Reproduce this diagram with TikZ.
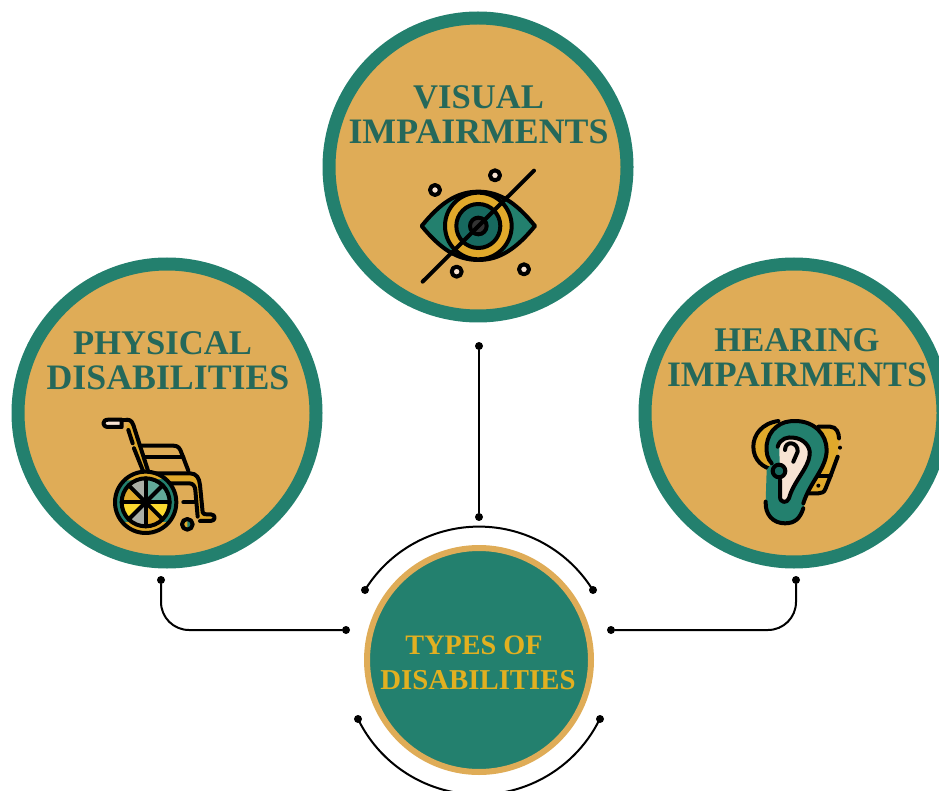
\documentclass[tikz,border=0pt]{standalone}
\usepackage{fontspec}
\setmainfont{Liberation Serif}
\definecolor{ringgreen}{HTML}{23806E}
\definecolor{darkgreen}{HTML}{17695F}
\definecolor{tan}{HTML}{DFAC57}
\definecolor{gold}{HTML}{E0A92B}
\definecolor{titlegreen}{HTML}{25685A}
\definecolor{titlegold}{HTML}{E2B020}
\definecolor{cream}{HTML}{F7E3D3}
\definecolor{spokegray}{HTML}{ABAFA6}
\definecolor{spoketeal}{HTML}{62A898}
\definecolor{spokeyellow}{HTML}{FBD92F}
\def\bigrad{149pt}
\def\midrad{112pt}
\def\upper#1{{\fontsize{34.6}{35}\selectfont #1}}
\def\hubupper#1{{\fontsize{28.2}{35}\selectfont #1}}

\begin{document}
\begin{tikzpicture}[x=1pt,y=1pt,line cap=round,line join=round]
    \tikzstyle{topic}=[circle,draw=ringgreen,line width=13pt,fill=tan,minimum size=2*\bigrad,inner sep=0pt]
    \tikzstyle{hub}=[circle,draw=tan,line width=6pt,fill=ringgreen,minimum size=2*\midrad,inner sep=0pt]
    \tikzstyle{title}=[text=titlegreen,font=\fontsize{35.8}{35}\selectfont\bfseries,align=center,inner sep=0pt]
    \tikzstyle{hubtitle}=[text=titlegold,font=\fontsize{28.8}{35}\selectfont\bfseries,align=center,inner sep=0pt]
    \tikzstyle{dot}=[circle,fill=black,minimum size=8pt,inner sep=0pt]
    \tikzstyle{wire}=[draw=black,line width=2pt]
    \tikzstyle{icon}=[draw=black,line width=4pt]
    \tikzstyle{zoomed}=[x=0.3333pt,y=-0.3333pt]
    \useasboundingbox (0,-791) rectangle (939,0);

    % Draw the circles
    \node[topic] (V) at (478,-167) {};
    \node[topic] (P) at (167,-413) {};
    \node[topic] (H) at (794,-413) {};
    \node[hub] (T) at (479,-660) {};

    % Draw the titles
    \node[title] (V-t) at (478.5,-115) {\upper{VISUAL}\\IMPAIRMENTS};
    \node[title] (P-t) at (168,-361) {\hspace*{-11pt}\upper{PHYSICAL}\\DISABILITIES};
    \node[title] (H-t) at (797,-358) {\upper{HEARING}\\IMPAIRMENTS};
    \node[hubtitle] (T-t) at (478,-663) {\hspace*{-8pt}\hubupper{TYPES OF}\\DISABILITIES};

    % Draw the dots
    \foreach \name / \x / \y in {a/479/346,b/479/517,c/161/580,d/346/630,e/796/580,f/611/630,
                                 g/365/590,h/593/590,i/358/719,j/600/719}
        \node[dot] (D-\name) at (\x,-\y) {};

    % Connect the dots
    \draw[wire] (D-a) -- (D-b);
    \draw[wire] (D-c) -- ++(0,-22) to[out=-90,in=180] ++(28,-28) -- (D-d);
    \draw[wire] (D-e) -- ++(0,-22) to[out=-90,in=0] ++(-28,-28) -- (D-f);
    \draw[wire] (D-g) arc[start angle=148.2,end angle=31.8,radius=134];
    \draw[wire] (D-i) arc[start angle=206,end angle=334,radius=134.5];

    % Draw the eye
    \begin{scope}[shift={(400,-150)},zoomed]
        \draw[icon,fill=ringgreen] (65,228) .. controls (120,160) and (170,125) .. (235,125)
            .. controls (300,125) and (350,160) .. (405,228)
            .. controls (350,295) and (300,330) .. (235,330)
            .. controls (170,330) and (120,295) .. (65,228) -- cycle;
        \draw[icon,fill=gold] (235,228) circle[radius=100];
        \draw[icon,fill=darkgreen] (235,228) circle[radius=66];
        \draw[icon,fill=black!80] (235,228) circle[radius=25];
        \draw[icon] (68,395) -- (402,62);
        \foreach \x / \y in {105/120,285/76,170/365,372/358}
            \draw[icon,fill=cream] (\x,\y) circle[radius=15];
    \end{scope}

    % Draw the wheelchair
    \begin{scope}[shift={(90,-405)},zoomed]
        \fill[gold] (108,66) -- (122,50) -- (178,205) -- (160,205) -- cycle;
        \draw[icon] (155,122) -- (250,122) .. controls (265,122) and (270,130) .. (275,145) -- (295,197);
        \draw[icon] (165,157) -- (280,157);
        \draw[icon] (110,44) .. controls (125,44) and (128,55) .. (130,60) -- (175,200);
        \draw[icon,fill=cream] (55,44) .. controls (35,44) and (35,66) .. (55,66) -- (95,66) -- (95,44) -- cycle;
        \draw[icon] (95,44) -- (110,44);
        \draw[icon] (115,75) -- (128,115);
        \draw[icon] (132,130) -- (160,200);
        \fill[gold] (190,205) -- (300,205) .. controls (320,205) and (330,220) .. (330,240) -- (338,328)
            -- (365,328) -- (365,348) -- (330,348) -- (318,245) .. controls (315,235) and (305,235) .. (295,235) -- (240,235) -- cycle;
        \draw[icon] (190,205) -- (300,205) .. controls (320,205) and (328,220) .. (330,240) -- (338,322)
            .. controls (340,328) and (345,328) .. (350,328) -- (362,328) .. controls (378,328) and (378,348) .. (362,348) -- (330,348);
        \draw[icon] (240,235) -- (298,235) .. controls (310,235) and (315,245) .. (316,255) -- (323,335);
        \draw[icon] (280,292) -- (315,292);
        % the big wheel
        \fill[ringgreen] (167,292) circle[radius=92];
        \fill[gold] (167,292) ++(40:92) arc[start angle=40,end angle=140,radius=92] -- cycle;
        \fill[gold] (167,292) ++(-135:92) arc[start angle=-135,end angle=-50,radius=92] -- cycle;
        \foreach \a / \colr in {0/spokeyellow,45/gold,90/spokegray,135/spokeyellow,
                                180/gold,225/spokegray,270/spoketeal,315/spoketeal}
            \fill[\colr] (167,292) -- ++(\a:72) arc[start angle=\a,end angle=\a+45,radius=72] -- cycle;
        \draw[icon] (167,292) circle[radius=92];
        \draw[icon] (167,292) circle[radius=72];
        \foreach \a in {0,45,...,315}
            \draw[icon] (167,292) -- ++(\a:72);
        % the small wheel
        \fill[gold] (292,358) circle[radius=16];
        \fill[ringgreen] (292,342) arc[start angle=-90,end angle=90,radius=16] -- cycle;
        \draw[icon] (292,358) circle[radius=16];
    \end{scope}

    % Draw the ear
    \begin{scope}[shift={(735,-405)},zoomed]
        \fill[gold] (250,65) -- (285,65) .. controls (305,65) and (312,85) .. (312,100) -- (308,155) -- (285,205)
            -- (272,250) .. controls (268,262) and (260,265) .. (250,265) -- (215,265) -- cycle;
        \draw[icon] (250,65) -- (285,65) .. controls (305,65) and (312,85) .. (312,100);
        \draw[icon] (308,155) -- (287,212) -- (272,250) .. controls (268,262) and (260,265) .. (250,265) -- (215,265);
        \draw[icon] (287,212) -- (240,212);
        \fill[black] (315,128) circle[radius=6];
        \fill[black] (250,242) circle[radius=6];
        \fill[gold] (130,48) .. controls (80,55) and (55,90) .. (55,125)
            .. controls (55,165) and (85,190) .. (130,195) -- cycle;
        \draw[icon] (130,48) .. controls (80,55) and (55,90) .. (55,125)
            .. controls (55,165) and (85,190) .. (115,193);
        \fill[ringgreen] (180,50) .. controls (240,50) and (275,90) .. (275,135)
            .. controls (275,190) and (225,230) .. (210,285) .. controls (205,330) and (185,355) .. (150,355)
            .. controls (115,355) and (90,330) .. (92,290) -- (95,195) -- (110,175)
            .. controls (85,150) and (90,90) .. (125,65) .. controls (140,52) and (160,50) .. (180,50) -- cycle;
        \draw[icon] (110,175) .. controls (85,150) and (90,90) .. (125,65) .. controls (140,52) and (160,48) .. (180,48)
            .. controls (240,48) and (275,90) .. (275,135)
            .. controls (275,190) and (225,230) .. (205,295);
        \draw[icon] (92,290) .. controls (90,330) and (115,355) .. (150,355) .. controls (180,355) and (195,340) .. (205,310);
        \fill[cream] (133,115) .. controls (145,100) and (160,96) .. (175,98)
            .. controls (205,100) and (228,125) .. (224,150)
            .. controls (220,190) and (175,230) .. (162,280)
            .. controls (157,295) and (135,295) .. (135,275) -- cycle;
        \draw[icon] (128,125) .. controls (135,100) and (160,95) .. (175,98) .. controls (205,100) and (228,125) .. (224,150)
            .. controls (220,190) and (175,230) .. (162,280) .. controls (157,295) and (135,295) .. (135,275) -- (135,225);
        \draw[icon] (150,135) .. controls (150,105) and (190,110) .. (188,140) -- (175,170);
        \draw[icon,fill=darkgreen] (132,198) circle[radius=19];
    \end{scope}
\end{tikzpicture}
\end{document}
